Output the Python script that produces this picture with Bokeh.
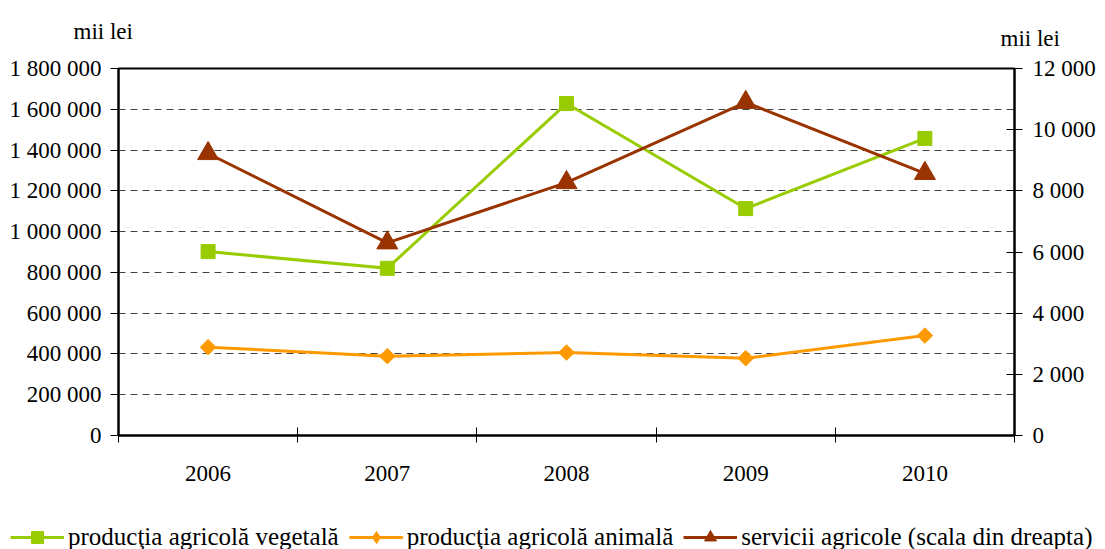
from bokeh.plotting import figure
from bokeh.models import Range1d, LinearAxis, FixedTicker, Legend, LegendItem, Label
from bokeh.layouts import column
from bokeh.embed import file_html
from bokeh.resources import INLINE
import math

# ---- data ----
years = ["2006", "2007", "2008", "2009", "2010"]
vegetal = [902000, 820000, 1628000, 1113000, 1457000]
animal = [433000, 389000, 407000, 379000, 490000]
servicii = [9220, 6300, 8270, 10890, 8570]

left_ticks = [0, 200000, 400000, 600000, 800000, 1000000, 1200000, 1400000, 1600000, 1800000]
left_labels = ["0", "200 000", "400 000", "600 000", "800 000", "1 000 000",
               "1 200 000", "1 400 000", "1 600 000", "1 800 000"]
right_ticks = [0, 2000, 4000, 6000, 8000, 10000, 12000]
right_labels = ["0", "2 000", "4 000", "6 000", "8 000", "10 000", "12 000"]
series_names = ["producţia agricolă vegetală", "producţia agricolă animală",
                "servicii agricole (scala din dreapta)"]
unit_label = "mii lei"

FONT = "Liberation Serif"
FS = "23px"
FS_LEG = "25px"
C_VEG = "#99CC00"
C_ANI = "#FF9900"
C_SER = "#993300"
W = 1100

xs = [i + 0.5 for i in range(len(years))]


def strip(height, xr, yr):
    f = figure(width=W, height=height, output_backend="svg", toolbar_location=None,
               x_axis_location=None, y_axis_location=None, frame_align=False,
               min_border_left=0, min_border_right=0, min_border_top=0, min_border_bottom=0,
               x_range=xr, y_range=yr)
    f.grid.visible = False
    f.outline_line_color = None
    f.border_fill_color = "white"
    f.background_fill_color = "white"
    return f


# ---- top strip with the unit labels (pixel-like coordinates) ----
TOP_H = 50
top = strip(TOP_H, Range1d(0, W), Range1d(TOP_H, 0))
top.add_layout(Label(x=73, y=31, text=unit_label, text_font=FONT, text_font_size=FS,
                     text_baseline="alphabetic", text_color="black"))
top.add_layout(Label(x=1000, y=38, text=unit_label, text_font=FONT, text_font_size=FS,
                     text_baseline="alphabetic", text_color="black"))

# ---- main chart ----
p = figure(width=W, height=465, x_range=Range1d(0, len(years)),
           y_range=Range1d(0, 1800000), output_backend="svg", toolbar_location=None,
           frame_align=False,
           min_border_left=118, min_border_right=86, min_border_top=18, min_border_bottom=80)
p.background_fill_color = "white"
p.border_fill_color = "white"
p.outline_line_color = "black"
p.outline_line_width = 2

# x axis
xa = p.xaxis[0]
xa.ticker = FixedTicker(ticks=xs, minor_ticks=list(range(len(years) + 1)))
xa.major_label_overrides = {x: y for x, y in zip(xs, years)}
xa.major_tick_in = 0
xa.major_tick_out = 0
xa.minor_tick_in = 8
xa.minor_tick_out = 7
xa.minor_tick_line_color = "black"
xa.minor_tick_line_width = 1
xa.axis_line_color = "black"
xa.axis_line_width = 2
xa.major_label_standoff = 23
xa.major_label_text_font = FONT
xa.major_label_text_font_size = FS
xa.major_label_text_color = "black"

# left axis
ya = p.yaxis[0]
ya.ticker = FixedTicker(ticks=left_ticks)
ya.major_label_overrides = {t: l for t, l in zip(left_ticks, left_labels)}
ya.major_tick_in = 0
ya.major_tick_out = 8
ya.major_tick_line_color = "black"
ya.minor_tick_line_color = None
ya.axis_line_color = "black"
ya.axis_line_width = 2
ya.major_label_standoff = 9
ya.major_label_text_font = FONT
ya.major_label_text_font_size = FS
ya.major_label_text_color = "black"

# right axis
p.extra_y_ranges = {"r": Range1d(0, 12000)}
ra = LinearAxis(y_range_name="r", ticker=FixedTicker(ticks=right_ticks),
                major_label_overrides={t: l for t, l in zip(right_ticks, right_labels)})
ra.major_tick_in = 8
ra.major_tick_out = 8
ra.major_tick_line_color = "black"
ra.minor_tick_line_color = None
ra.axis_line_color = "black"
ra.axis_line_width = 2
ra.major_label_standoff = 10
ra.major_label_text_font = FONT
ra.major_label_text_font_size = FS
ra.major_label_text_color = "black"
p.add_layout(ra, "right")

# grid
p.xgrid.visible = False
p.ygrid.ticker = FixedTicker(ticks=left_ticks[1:-1])
p.ygrid.grid_line_color = "#444444"
p.ygrid.grid_line_dash = "7 5"
p.ygrid.grid_line_width = 1

# series
p.line(xs, vegetal, line_color=C_VEG, line_width=3)
p.scatter(xs, vegetal, marker="square", size=14, fill_color=C_VEG, line_color=C_VEG)
p.line(xs, animal, line_color=C_ANI, line_width=3)
p.scatter(xs, animal, marker="square", angle=math.pi / 4, size=11,
          fill_color=C_ANI, line_color=C_ANI)
p.line(xs, servicii, line_color=C_SER, line_width=3, y_range_name="r")
p.scatter(xs, servicii, marker="triangle", size=21, fill_color=C_SER,
          line_color=C_SER, y_range_name="r")

# ---- legend strip (series drawn off-view; only their legend glyphs show) ----
lf = strip(40, Range1d(-20, -10), Range1d(-20, -10))
leg_series = [(vegetal, C_VEG, "square"), (animal, C_ANI, "diamond"), (servicii, C_SER, "triangle")]
items = []
for name, (vals, col, mk) in zip(series_names, leg_series):
    lr = lf.line(xs, vals, line_color=col, line_width=3)
    sr = lf.scatter(xs, vals, marker=mk, fill_color=col, line_color=col)
    items.append(LegendItem(label=name, renderers=[lr, sr]))
legend = Legend(items=items, orientation="horizontal", location=(10, 3),
                border_line_color=None, background_fill_alpha=0,
                label_text_font=FONT, label_text_font_size=FS_LEG, label_text_color="black",
                glyph_width=54, glyph_height=30, spacing=10, padding=2,
                label_standoff=4, margin=0)
lf.add_layout(legend)

layout = column(top, p, lf, spacing=0)
open("out.html", "w").write(file_html(layout, INLINE))
